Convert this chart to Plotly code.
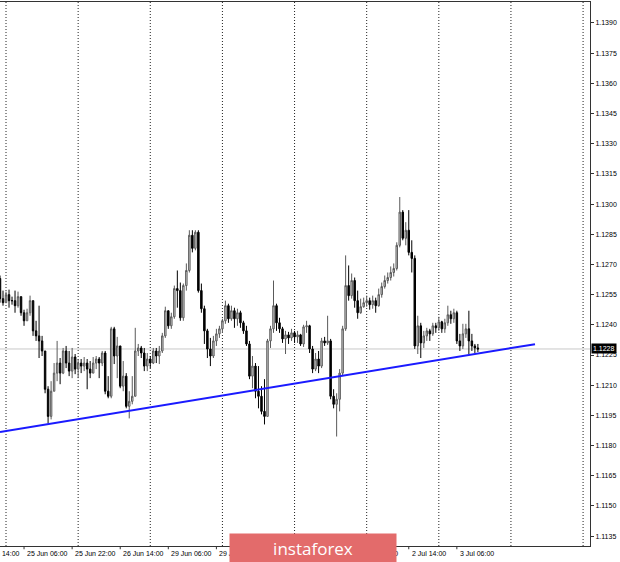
import pandas as pd
import plotly.graph_objects as go

# ---- data (EURUSD H1) ----
start_time = "2020-06-24 22:00"
first_open = 1.1263
close = [1.1253, 1.1251, 1.1255, 1.1252, 1.1252, 1.12495, 1.1254, 1.1246, 1.1242, 1.1246,
         1.1252, 1.1237, 1.12345, 1.1232, 1.1227, 1.1208, 1.11945, 1.1207, 1.1216, 1.1221,
         1.1216, 1.1227, 1.1221, 1.1217, 1.1224, 1.1218, 1.1221, 1.12195, 1.1221, 1.1218,
         1.1216, 1.1221, 1.1223, 1.1221, 1.1226, 1.1207, 1.12045, 1.1238, 1.12245, 1.12295,
         1.12095, 1.12145, 1.11995, 1.1202, 1.12045, 1.1227, 1.12285, 1.1226, 1.12195, 1.1223,
         1.1221, 1.1227, 1.12245, 1.1227, 1.12345, 1.1247, 1.12395, 1.1244, 1.1258, 1.1257,
         1.12435, 1.12595, 1.1267, 1.12845, 1.1278, 1.1286, 1.1257, 1.1248, 1.1237, 1.1228,
         1.12245, 1.1232, 1.12355, 1.1238, 1.1242, 1.12495, 1.1243, 1.1247, 1.1243, 1.1246,
         1.1241, 1.1237, 1.12305, 1.12145, 1.12195, 1.1207, 1.12045, 1.1197, 1.11945, 1.1232,
         1.1238, 1.12495, 1.1241, 1.1238, 1.1233, 1.1235, 1.12335, 1.1236, 1.1234, 1.1235,
         1.12305, 1.1239, 1.12395, 1.1228, 1.1218, 1.1223, 1.12195, 1.1232, 1.1231, 1.1232,
         1.12045, 1.12005, 1.1203, 1.1216, 1.1238, 1.12595, 1.12545, 1.1262, 1.1252, 1.1246,
         1.1249, 1.1251, 1.1252, 1.1250, 1.1252, 1.12495, 1.1255, 1.1259, 1.1262, 1.12635,
         1.1266, 1.1268, 1.12795, 1.1296, 1.1283, 1.1287, 1.1276, 1.1273, 1.12295, 1.12395,
         1.1231, 1.12345, 1.1237, 1.12355, 1.12395, 1.12385, 1.12415, 1.1238, 1.1241, 1.1245,
         1.1243, 1.1246, 1.1232, 1.12295, 1.12355, 1.1238, 1.1232, 1.12295, 1.12285, 1.1228]
high = [1.12645, 1.1257, 1.12565, 1.12575, 1.1254, 1.1257, 1.12565, 1.1252, 1.12475, 1.1248,
        1.12545, 1.1252, 1.1242, 1.12495, 1.12345, 1.1227, 1.12095, 1.1212, 1.1221, 1.1232,
        1.12235, 1.12285, 1.12295, 1.1227, 1.12285, 1.12255, 1.1223, 1.1223, 1.1224, 1.1223,
        1.1222, 1.1224, 1.12245, 1.1224, 1.1227, 1.1227, 1.12145, 1.1239, 1.1239, 1.1234,
        1.12295, 1.1222, 1.1216, 1.1207, 1.12145, 1.12385, 1.12305, 1.12295, 1.12285, 1.1226,
        1.12245, 1.12285, 1.12285, 1.12295, 1.1236, 1.1249, 1.1247, 1.1246, 1.12595, 1.1267,
        1.1261, 1.12605, 1.12705, 1.1287, 1.1287, 1.1287, 1.1287, 1.12605, 1.12495, 1.1238,
        1.12335, 1.12345, 1.1238, 1.12395, 1.1243, 1.1252, 1.12505, 1.12495, 1.12485, 1.1248,
        1.1247, 1.1242, 1.12395, 1.1232, 1.12245, 1.1221, 1.12195, 1.12095, 1.1213, 1.1233,
        1.12395, 1.1262, 1.12505, 1.12435, 1.1239, 1.1237, 1.12365, 1.1238, 1.1237, 1.1237,
        1.12355, 1.1240, 1.1242, 1.1240, 1.12295, 1.1226, 1.1227, 1.12335, 1.1234, 1.12445,
        1.1233, 1.1208, 1.1206, 1.1218, 1.12395, 1.12745, 1.12695, 1.12655, 1.12635, 1.1257,
        1.1253, 1.12535, 1.12545, 1.12535, 1.12545, 1.12535, 1.1258, 1.1261, 1.12645, 1.1266,
        1.1269, 1.12705, 1.1281, 1.13035, 1.1297, 1.1291, 1.1297, 1.1282, 1.12745, 1.12445,
        1.1241, 1.1237, 1.12385, 1.1238, 1.1241, 1.1241, 1.1244, 1.1242, 1.1243, 1.12495,
        1.1247, 1.1248, 1.1247, 1.12355, 1.12405, 1.12405, 1.1247, 1.12355, 1.12305, 1.12305]
low = [1.1251, 1.12495, 1.1251, 1.12485, 1.1250, 1.1246, 1.12485, 1.12445, 1.12395, 1.1242,
       1.12445, 1.12345, 1.1232, 1.12235, 1.12245, 1.1206, 1.1191, 1.1193, 1.12095, 1.1212,
       1.12105, 1.12155, 1.12185, 1.12145, 1.12135, 1.12155, 1.12135, 1.1216, 1.1217, 1.1208,
       1.12135, 1.1216, 1.1218, 1.12135, 1.12195, 1.12055, 1.12035, 1.12035, 1.12205, 1.12135,
       1.12085, 1.1207, 1.11985, 1.11935, 1.12005, 1.12045, 1.12245, 1.12235, 1.1217, 1.1217,
       1.12185, 1.12205, 1.1221, 1.12205, 1.1226, 1.12335, 1.1238, 1.1238, 1.1243, 1.12485,
       1.1242, 1.1242, 1.1257, 1.1266, 1.1276, 1.1277, 1.1256, 1.1246, 1.12305, 1.12235,
       1.12195, 1.12235, 1.12295, 1.12335, 1.1236, 1.12405, 1.1241, 1.1242, 1.12385, 1.12395,
       1.12385, 1.12355, 1.12295, 1.1213, 1.12085, 1.12035, 1.11985, 1.11955, 1.11905, 1.11945,
       1.12285, 1.1236, 1.1237, 1.1236, 1.1231, 1.12255, 1.12305, 1.1232, 1.1231, 1.1231,
       1.12295, 1.1229, 1.1236, 1.1226, 1.1216, 1.1217, 1.1216, 1.12185, 1.12295, 1.1230,
       1.1203, 1.11985, 1.11845, 1.1197, 1.12145, 1.1237, 1.1252, 1.1253, 1.12485, 1.1243,
       1.12455, 1.12485, 1.1249, 1.12475, 1.1248, 1.1246, 1.1249, 1.12535, 1.1258, 1.12605,
       1.1262, 1.1264, 1.1267, 1.12785, 1.1282, 1.12795, 1.12745, 1.1266, 1.1228, 1.12255,
       1.12235, 1.12285, 1.1232, 1.1232, 1.12345, 1.1236, 1.1237, 1.1236, 1.1236, 1.12395,
       1.12405, 1.1241, 1.12305, 1.1227, 1.1228, 1.12335, 1.12255, 1.1227, 1.1226, 1.12265]
trend_bars = [0, 178]
trend_prices = [1.11867, 1.12304]
y_ticks_start, y_ticks_step = 1.1135, 0.0015
y_range = [1.11301, 1.14004]

n = len(close)
open_ = [first_open] + close[:-1]
high = [max(h, o, c) for h, o, c in zip(high, open_, close)]
low = [min(l, o, c) for l, o, c in zip(low, open_, close)]

# hourly timeline skipping weekends, index 0 = first bar; extended for the day grid
def hours_from(t0, count, step):
    out, t = [], pd.Timestamp(t0)
    while len(out) < count:
        t = t + pd.Timedelta(hours=step)
        if t.weekday() < 5:
            out.append(t)
    return out

future = [pd.Timestamp(start_time)] + hours_from(start_time, 200, 1)
past = hours_from(start_time, 10, -1)
timeline = {i: t for i, t in enumerate(future)}
timeline.update({-(k + 1): t for k, t in enumerate(past)})

x = list(range(n))
x_max = 196.3
label_idx = [i for i in sorted(timeline) if (i - 8) % 16 == 0 and i <= n - 1]
fmt = lambda t: f"{t.day} {t.strftime('%b %H:%M')}"
day_starts = [i for i in sorted(timeline) if timeline[i].hour == 0 and 0 <= i <= x_max]

fig = go.Figure()
fig.add_trace(go.Candlestick(
    x=x, open=open_, high=high, low=low, close=close,
    increasing=dict(line=dict(color="#5a5a5a", width=1), fillcolor="#d8d8d8"),
    decreasing=dict(line=dict(color="#000000", width=1), fillcolor="#000000"),
    whiskerwidth=0, showlegend=False, hoverinfo="skip"))
fig.add_trace(go.Scatter(x=trend_bars, y=trend_prices, mode="lines",
                         line=dict(color="#1a1aff", width=2), showlegend=False, hoverinfo="skip"))

shapes = []
for d in day_starts:
    shapes.append(dict(type="line", xref="x", yref="paper", x0=d, x1=d, y0=0, y1=1,
                       line=dict(color="#222222", width=1, dash="1px,2px"), layer="below"))
last_price = close[-1]
shapes.append(dict(type="line", xref="paper", yref="y", x0=0, x1=1, y0=last_price, y1=last_price,
                   line=dict(color="#c8c8c8", width=1), layer="below"))
# x-axis tick marks
for i in label_idx:
    if i >= 0:
        shapes.append(dict(type="line", xref="x", yref="paper", x0=i, x1=i, y0=0, y1=-0.006,
                           line=dict(color="#333333", width=1)))

annotations = []
for i in label_idx:
    annotations.append(dict(xref="paper", yref="paper", x=i / x_max, y=0, xanchor="left", yanchor="top",
                            xshift=1, yshift=-2, text=fmt(timeline[i]), showarrow=False,
                            font=dict(family="Liberation Sans", size=7, color="#000000")))
annotations += [
    dict(xref="paper", yref="y", x=1, y=last_price, xanchor="left", yanchor="middle", xshift=1,
         text=f"{last_price:.4f}", showarrow=False, bgcolor="#000000", borderpad=1,
         font=dict(family="Liberation Sans", size=7, color="#ffffff")),
    # watermark (drawn last so it covers the labels beneath it)
    dict(xref="paper", yref="paper", x=0.5298, y=-0.0037, xanchor="center", yanchor="middle",
         text="instaforex", showarrow=False, width=166, height=28, borderpad=0,
         bgcolor="#e36b6b", align="center", valign="middle",
         font=dict(family="Open Sans", size=17, color="#ffffff")),
]

fig.update_layout(
    shapes=shapes, annotations=annotations,
    width=620, height=562, margin=dict(l=0, r=30, t=2, b=16, autoexpand=False),
    paper_bgcolor="#ffffff", plot_bgcolor="#ffffff",
    font=dict(family="Liberation Sans", size=7, color="#000000"),
    xaxis=dict(range=[0, x_max], rangeslider=dict(visible=False), showgrid=False, zeroline=False,
               showticklabels=False, ticks="", automargin=False,
               showline=True, linecolor="#333333", linewidth=1, mirror=True),
    yaxis=dict(range=y_range, side="right", showgrid=False, zeroline=False, automargin=False,
               tick0=y_ticks_start, dtick=y_ticks_step, tickformat=".4f",
               ticks="outside", ticklen=3, tickcolor="#333333",
               showline=True, linecolor="#333333", linewidth=1,
               tickfont=dict(family="Liberation Sans", size=7, color="#000000")),
)
fig.write_html("out.html", config={"displayModeBar": False},
               post_script="document.body.style.margin='0';document.body.style.overflow='hidden';")
